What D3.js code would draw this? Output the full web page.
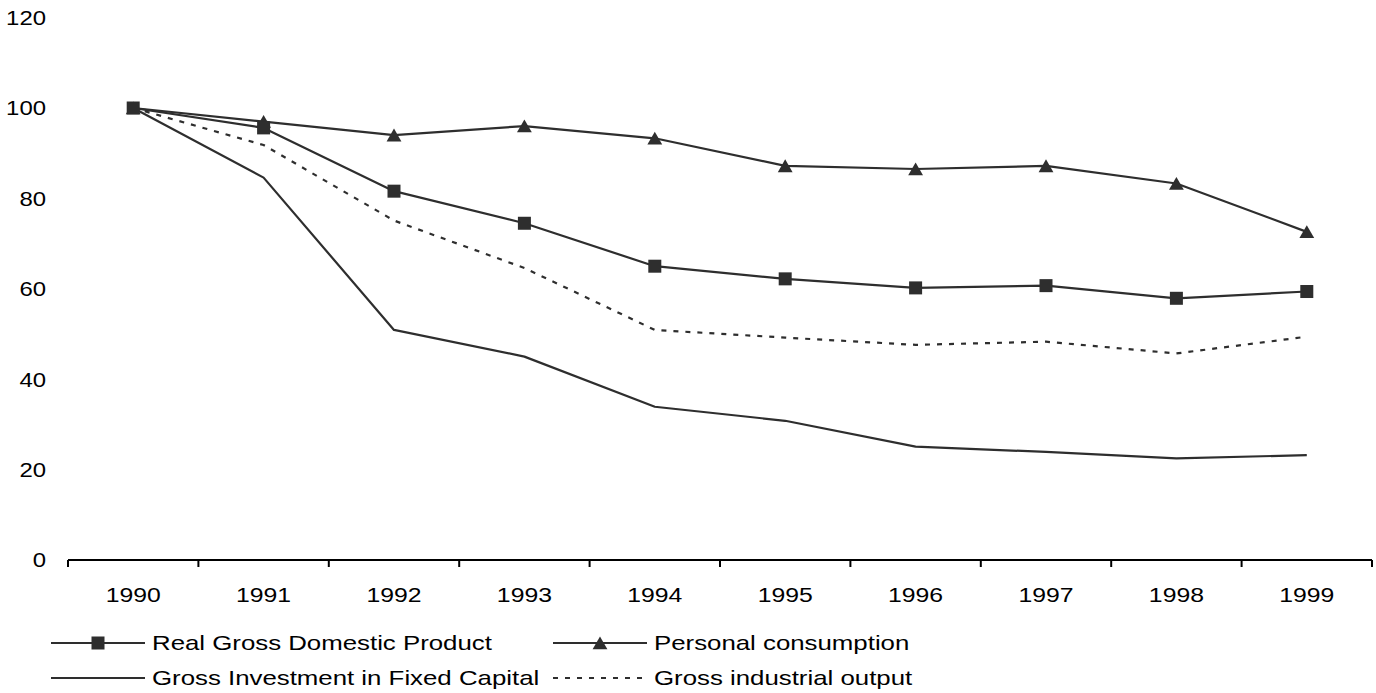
<!DOCTYPE html>
<html><head><meta charset="utf-8">
<script src="https://cdn.jsdelivr.net/npm/d3@7"></script>
<style>
body{margin:0;background:#fff;}
text{font-family:"Liberation Sans",Arial,sans-serif;fill:#000;}
</style></head>
<body><svg id="c" width="1376" height="693"></svg>
<script>
const years = ["1990","1991","1992","1993","1994","1995","1996","1997","1998","1999"];
const gdp = [100, 95.6, 81.6, 74.5, 65.0, 62.2, 60.2, 60.7, 57.9, 59.4];
const consumption = [100, 97.0, 94.0, 96.0, 93.3, 87.2, 86.5, 87.2, 83.3, 72.6];
const investment = [100, 84.6, 50.9, 45.0, 33.9, 30.8, 25.1, 23.9, 22.5, 23.2];
const industrial = [100, 91.8, 75.1, 64.6, 50.9, 49.2, 47.6, 48.3, 45.7, 49.4];
const yTicks = [0, 20, 40, 60, 80, 100, 120];
const legendNames = ["Real Gross Domestic Product", "Personal consumption", "Gross Investment in Fixed Capital", "Gross industrial output"];

const svg = d3.select("#c");
const col = "#2e2e2e";
const FS = "21px";
const x = d3.scaleBand().domain(years).range([68, 1372]);
const y = d3.scaleLinear().domain([0, 120]).range([560, 17.6]);

// y labels
svg.append("g").selectAll("text").data(yTicks).join("text")
  .attr("transform", d => `translate(46,${y(d)}) scale(1.14,1)`)
  .attr("dy", "0.35em")
  .attr("text-anchor", "end").style("font-size", FS).text(d => d);

// x axis
const xa = svg.append("g").attr("transform", "translate(0,560)");
xa.append("line").attr("x1", x.range()[0]).attr("x2", x.range()[1]).attr("stroke", "#000").attr("stroke-width", 2);
const bounds = years.map(d => x(d)).concat([x.range()[1]]);
xa.selectAll("line.t").data(bounds).join("line").attr("class", "t")
  .attr("x1", d => d).attr("x2", d => d).attr("y1", 0).attr("y2", 7)
  .attr("stroke", "#000").attr("stroke-width", 2);
xa.selectAll("text").data(years).join("text")
  .attr("transform", d => `translate(${x(d) + x.bandwidth() / 2},35) scale(1.18,1)`)
  .attr("dy", "0.35em")
  .attr("text-anchor", "middle").style("font-size", FS).text(d => d);

const cx = (d, i) => x(years[i]) + x.bandwidth() / 2;
const line = d3.line().x((d, i) => cx(d, i)).y(d => y(d));

function drawLine(data, dash) {
  svg.append("path").datum(data).attr("d", line)
    .attr("fill", "none").attr("stroke", col).attr("stroke-width", 2.2)
    .attr("stroke-dasharray", dash || null).attr("stroke-linejoin", "round");
}
drawLine(investment);
drawLine(industrial, "5,7");
drawLine(consumption);
drawLine(gdp);

const tri = d3.symbol().type(d3.symbolTriangle).size(95);
svg.append("g").selectAll("path").data(consumption).join("path")
  .attr("d", tri).attr("fill", col)
  .attr("transform", (d, i) => `translate(${cx(d, i)},${y(d) + 2})`);
svg.append("g").selectAll("rect").data(gdp).join("rect")
  .attr("x", (d, i) => cx(d, i) - 6.5).attr("y", d => y(d) - 6.5)
  .attr("width", 13).attr("height", 13).attr("fill", col);

// legend
const leg = [
  {x: 51, y: 643, name: legendNames[0], m: "sq"},
  {x: 553, y: 643, name: legendNames[1], m: "tri"},
  {x: 51, y: 678, name: legendNames[2], m: null},
  {x: 553, y: 678, name: legendNames[3], m: null, dash: "5,7"}
];
leg.forEach(l => {
  const g = svg.append("g");
  g.append("line").attr("x1", l.x).attr("x2", l.x + 94).attr("y1", l.y).attr("y2", l.y)
    .attr("stroke", col).attr("stroke-width", 2.2).attr("stroke-dasharray", l.dash || null);
  if (l.m === "sq") g.append("rect").attr("x", l.x + 47 - 6.5).attr("y", l.y - 6.5).attr("width", 13).attr("height", 13).attr("fill", col);
  if (l.m === "tri") g.append("path").attr("d", tri).attr("fill", col).attr("transform", `translate(${l.x + 47},${l.y + 2})`);
  g.append("text").attr("transform", `translate(${l.x + 101},${l.y}) scale(1.23,1)`)
    .attr("dy", "0.35em").style("font-size", FS).text(l.name);
});
</script></body></html>
